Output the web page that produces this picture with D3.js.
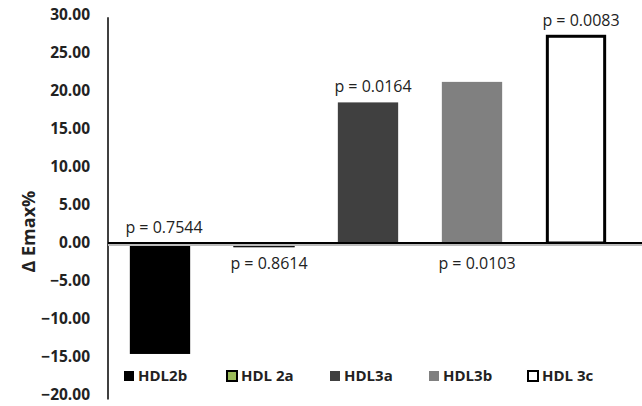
<!DOCTYPE html>
<html>
<head>
<meta charset="utf-8">
<script src="https://cdn.jsdelivr.net/npm/d3@7"></script>
<style>
  body { margin: 0; background: #fff; }
  text { font-family: "Open Sans", "Noto Sans", sans-serif; }
</style>
</head>
<body>
<div id="chart"></div>
<script>
'use strict';

const groups = ['HDL2b', 'HDL 2a', 'HDL3a', 'HDL3b', 'HDL 3c'];
const values = [-14.6, -0.5, 18.5, 21.2, 27.2];
const pLabels = ['p = 0.7544', 'p = 0.8614', 'p = 0.0164', 'p = 0.0103', 'p = 0.0083'];
const yTicks = [30, 25, 20, 15, 10, 5, 0, -5, -10, -15, -20];
const fills = ['#000000', '#9bbb59', '#404040', '#808080', '#ffffff'];

const width = 642, height = 406;
const margin = {top: 15, right: 14, bottom: 11, left: 108};

const svg = d3.select('#chart').append('svg')
    .attr('width', width)
    .attr('height', height);

let x = d3.scaleBand()
    .domain(groups)
    .range([margin.left, width - margin.right])
    .paddingInner(0.42)
    .paddingOuter(0.21);

let y = d3.scaleLinear()
    .domain([-20, 30])
    .range([height - margin.bottom, margin.top]);

// y axis
svg.append('line')
    .attr('x1', margin.left).attr('x2', margin.left)
    .attr('y1', y(29.7)).attr('y2', y(-20.6))
    .attr('stroke', '#000').attr('stroke-width', 1.5);

svg.append('g')
    .selectAll('text')
    .data(yTicks)
    .enter()
    .append('text')
    .attr('x', 90)
    .attr('y', d => y(d))
    .attr('dy', '0.35em')
    .attr('text-anchor', 'end')
    .attr('font-size', 15.5)
    .attr('font-weight', 'bold')
    .attr('fill', '#222')
    .text(d => d3.format('.2f')(d));

svg.append('text')
    .attr('transform', 'translate(35,' + y(1.5) + ') rotate(-90)')
    .attr('text-anchor', 'middle')
    .attr('font-size', 18)
    .attr('font-weight', 'bold')
    .attr('fill', '#222')
    .text('\u0394 Emax%');

// bars
svg.append('g')
    .selectAll('rect')
    .data(values)
    .enter()
    .append('rect')
    .attr('x', (d, i) => x(groups[i]) + (i === 4 ? 1.5 : 0))
    .attr('width', (d, i) => x.bandwidth() - (i === 4 ? 3 : 0))
    .attr('y', d => y(Math.max(0, d)))
    .attr('height', d => Math.abs(y(d) - y(0)))
    .attr('fill', (d, i) => i === 1 ? '#111' : fills[i])
    .attr('stroke', (d, i) => (i === 1 || i === 4) ? '#000' : 'none')
    .attr('stroke-width', (d, i) => i === 4 ? 3 : 1);

// zero line with soft shadow
svg.append('line')
    .attr('x1', margin.left).attr('x2', width)
    .attr('y1', y(0) + 2).attr('y2', y(0) + 2)
    .attr('stroke', '#bbb').attr('stroke-width', 2);
svg.append('line')
    .attr('x1', margin.left).attr('x2', width)
    .attr('y1', y(0)).attr('y2', y(0))
    .attr('stroke', '#000').attr('stroke-width', 1.8);

// p-value labels
const labelAbove = [true, false, true, false, true];
svg.append('g')
    .selectAll('text')
    .data(pLabels)
    .enter()
    .append('text')
    .attr('x', (d, i) => x(groups[i]) + x.bandwidth() / 2 + (i === 0 ? 4 : 5))
    .attr('y', (d, i) => labelAbove[i] ? y(Math.max(0, values[i])) - 10 : y(0) + 26)
    .attr('text-anchor', 'middle')
    .attr('font-size', 16)
    .attr('fill', '#222')
    .text(d => d);

// legend
const legendX = [124, 227, 330, 429, 528];
const legend = svg.append('g')
    .selectAll('g')
    .data(groups)
    .enter()
    .append('g')
    .attr('transform', (d, i) => 'translate(' + legendX[i] + ',' + 376 + ')');

legend.append('rect')
    .attr('x', 0).attr('y', -5)
    .attr('width', 10).attr('height', 10)
    .attr('fill', (d, i) => fills[i])
    .attr('stroke', (d, i) => (i === 1 || i === 4) ? '#000' : 'none')
    .attr('stroke-width', 2);

legend.append('text')
    .attr('x', 14)
    .attr('dy', '0.35em')
    .attr('font-size', 15)
    .attr('font-weight', 'bold')
    .attr('fill', '#222')
    .text(d => d);
</script>
</body>
</html>
